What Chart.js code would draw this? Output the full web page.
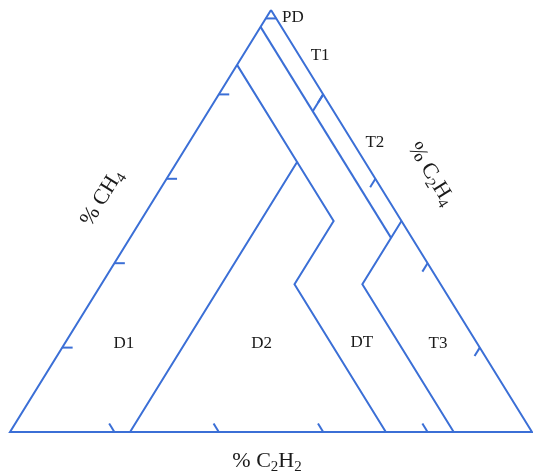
<!DOCTYPE html>
<html>
<head>
<meta charset="utf-8">
<title>Duval Triangle 1</title>
<script src="https://cdn.jsdelivr.net/npm/chart.js@4/dist/chart.umd.min.js"></script>
<style>
  html, body { margin: 0; padding: 0; background: #ffffff; }
  #wrap { width: 533px; height: 473px; }
</style>
</head>
<body>
<div id="wrap"><canvas id="duval" width="533" height="473"></canvas></div>
<script>
// Ternary points are [CH4, C2H4, C2H2] in percent.
const triangleEdge = [[100, 0, 0], [0, 100, 0], [0, 0, 100], [100, 0, 0]];
const pdLine = [[98, 2, 0], [98, 0, 2]];                      // CH4 = 98 %
const t1Line = [[96, 0, 4], [46, 50, 4]];                     // C2H2 = 4 %
const t1t2Line = [[80, 20, 0], [76, 20, 4]];                  // C2H4 = 20 %
const t3Line = [[50, 50, 0], [35, 50, 15], [0, 85, 15]];      // C2H4 = 50 %, C2H2 = 15 %
const d1Line = [[87, 0, 13], [64, 23, 13], [0, 23, 77]];      // C2H2 = 13 %, C2H4 = 23 %
const d2Line = [[64, 23, 13], [50, 37, 13], [35, 37, 28], [0, 72, 28]];
const tickValues = [20, 40, 60, 80];
const tickSpan = 2;

// zone names and where they sit in the plane (x across the base, y = %CH4)
const zoneNames = ['PD', 'T1', 'T2', 'T3', 'D1', 'D2', 'DT'];
const zoneX = [54.2, 59.4, 69.9, 82.0, 21.8, 48.2, 67.4];
const zoneY = [98.3, 89.1, 68.7, 20.9, 20.9, 20.9, 21.3];

const lineColor = '#3b6fd6';
const textColor = '#1a1a1a';
const serif = '"Liberation Serif", "Times New Roman", serif';

// ternary -> plane coordinates (x: 0..100 across the base, y: %CH4)
function toXY(p) {
  return { x: p[1] + p[0] / 2, y: p[0] };
}

function lineSet(points) {
  return {
    data: points.map(toXY),
    showLine: true,
    borderColor: lineColor,
    borderWidth: 2,
    pointRadius: 0,
    fill: false,
    tension: 0,
    clip: false
  };
}

// short inward ticks on each side, along that side's iso-lines
const tickSegments = [];
tickValues.forEach(v => {
  tickSegments.push([[v, 0, 100 - v], [v, tickSpan, 100 - v - tickSpan]]);       // %CH4 side
  tickSegments.push([[100 - v, v, 0], [100 - v - tickSpan, v, tickSpan]]);       // %C2H4 side
  tickSegments.push([[0, 100 - v, v], [tickSpan, 100 - v - tickSpan, v]]);       // %C2H2 base
});

const datasets = [triangleEdge, pdLine, t1Line, t1t2Line, t3Line, d1Line, d2Line]
  .concat(tickSegments)
  .map(lineSet);

function drawRich(ctx, parts, size, cx, cy, angle) {
  ctx.save();
  ctx.translate(cx, cy);
  ctx.rotate(angle);
  ctx.fillStyle = textColor;
  ctx.textBaseline = 'middle';
  ctx.textAlign = 'left';
  const subSize = size * 0.68;
  let total = 0;
  parts.forEach(p => {
    ctx.font = (p.sub ? subSize : size) + 'px ' + serif;
    total += ctx.measureText(p.t).width;
  });
  let x = -total / 2;
  parts.forEach(p => {
    ctx.font = (p.sub ? subSize : size) + 'px ' + serif;
    ctx.fillText(p.t, x, p.sub ? size * 0.28 : 0);
    x += ctx.measureText(p.t).width;
  });
  ctx.restore();
}

const labelPlugin = {
  id: 'duvalLabels',
  afterDatasetsDraw(chart) {
    const ctx = chart.ctx;
    const xs = chart.scales.x, ys = chart.scales.y;

    ctx.save();
    ctx.fillStyle = textColor;
    ctx.font = '17px ' + serif;
    ctx.textAlign = 'center';
    ctx.textBaseline = 'middle';
    zoneNames.forEach((n, i) => {
      ctx.fillText(n, xs.getPixelForValue(zoneX[i]), ys.getPixelForValue(zoneY[i]));
    });
    ctx.restore();

    const leftAngle = Math.atan2(ys.getPixelForValue(100) - ys.getPixelForValue(0),
                                 xs.getPixelForValue(50) - xs.getPixelForValue(0));
    const rightAngle = Math.atan2(ys.getPixelForValue(0) - ys.getPixelForValue(100),
                                  xs.getPixelForValue(100) - xs.getPixelForValue(50));

    drawRich(ctx, [{ t: '% C' }, { t: '2', sub: true }, { t: 'H' }, { t: '2', sub: true }],
      22, (xs.left + xs.right) / 2 - 4, ys.bottom + 29, 0);
    drawRich(ctx, [{ t: '% CH' }, { t: '4', sub: true }],
      22, xs.left + 92, ys.top + 188, leftAngle);
    drawRich(ctx, [{ t: '% C' }, { t: '2', sub: true }, { t: 'H' }, { t: '4', sub: true }],
      22, xs.left + 421, ys.top + 164, rightAngle);
  }
};

new Chart(document.getElementById('duval'), {
  type: 'scatter',
  data: { datasets },
  options: {
    responsive: false,
    animation: false,
    layout: { padding: { left: 10, right: 1, top: 10, bottom: 41 } },
    plugins: { legend: { display: false }, tooltip: { enabled: false } },
    scales: {
      x: { type: 'linear', min: 0, max: 100, display: false },
      y: { type: 'linear', min: 0, max: 100, display: false }
    }
  },
  plugins: [labelPlugin]
});
</script>
</body>
</html>
